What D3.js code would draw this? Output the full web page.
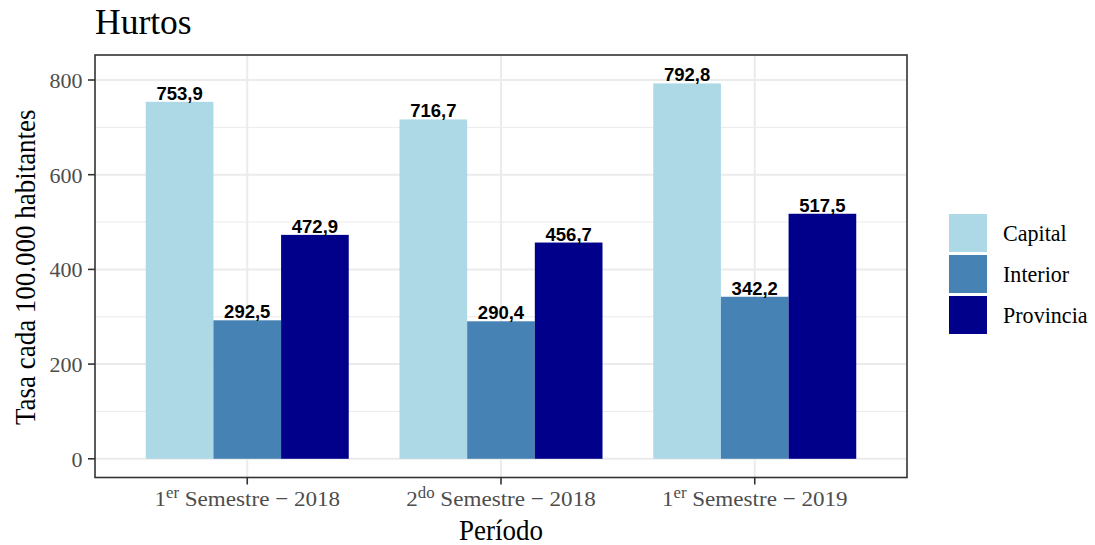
<!DOCTYPE html>
<html><head><meta charset="utf-8">
<script src="https://cdn.jsdelivr.net/npm/d3@7"></script>
<style>body{margin:0;background:#fff}svg{display:block}</style>
</head><body>
<script>
const periods = ["1er Semestre − 2018", "2do Semestre − 2018", "1er Semestre − 2019"];
const periodBase = ["1", "2", "1"];
const periodSup = ["er", "do", "er"];
const periodRest = [" Semestre − 2018", " Semestre − 2018", " Semestre − 2019"];
const regions = ["Capital", "Interior", "Provincia"];
const capital = [753.9, 716.7, 792.8];
const interior = [292.5, 290.4, 342.2];
const provincia = [472.9, 456.7, 517.5];
const colors = ["#ADD8E6", "#4682B4", "#00008B"];
const yTicks = [0, 200, 400, 600, 800];
const yMinor = [100, 300, 500, 700];

const W = 1095, H = 545;
const panel = {l: 95, r: 907, t: 55, b: 477.5};
const serif = "'Liberation Serif', serif";

const svg = d3.select("body").append("svg").attr("width", W).attr("height", H);

// ggplot-like discrete axis: expand 0.6 units each side, dodge width 0.8
const x = d3.scalePoint().domain(periods).range([panel.l, panel.r]).padding(0.6);
const unit = x.step();
const xg = d3.scaleBand().domain(regions).range([-unit * 0.4, unit * 0.4]);
const y = d3.scaleLinear().domain([-39.5, 852.8]).range([panel.b, panel.t]);

const series = [capital, interior, provincia];

// grid
const g = svg.append("g");
g.selectAll(".minor").data(yMinor).enter().append("line")
  .attr("x1", panel.l).attr("x2", panel.r).attr("y1", d => y(d)).attr("y2", d => y(d))
  .attr("stroke", "#ebebeb").attr("stroke-width", 1);
g.selectAll(".major").data(yTicks).enter().append("line")
  .attr("x1", panel.l).attr("x2", panel.r).attr("y1", d => y(d)).attr("y2", d => y(d))
  .attr("stroke", "#ebebeb").attr("stroke-width", 2);
g.selectAll(".vmajor").data(periods).enter().append("line")
  .attr("x1", d => x(d)).attr("x2", d => x(d)).attr("y1", panel.t).attr("y2", panel.b)
  .attr("stroke", "#ebebeb").attr("stroke-width", 2);

// bars
regions.forEach((r, k) => {
  svg.append("g").selectAll("rect").data(series[k]).enter().append("rect")
    .attr("x", (d, i) => x(periods[i]) + xg(r)).attr("width", xg.bandwidth())
    .attr("y", d => y(d)).attr("height", d => y(0) - y(d))
    .attr("fill", colors[k]);
});
// labels
regions.forEach((r, k) => {
  svg.append("g").selectAll("text").data(series[k]).enter().append("text")
    .attr("x", (d, i) => x(periods[i]) + xg(r) + xg.bandwidth() / 2)
    .attr("y", d => y(d) - 2)
    .attr("text-anchor", "middle")
    .attr("font-family", "'Liberation Sans', Arial, sans-serif").attr("font-weight", "bold")
    .attr("font-size", 18.5).attr("fill", "#000")
    .text(d => d3.format(".1f")(d).replace(".", ","));
});

// panel border
svg.append("rect").attr("x", panel.l).attr("y", panel.t).attr("width", panel.r - panel.l).attr("height", panel.b - panel.t)
  .attr("fill", "none").attr("stroke", "#333333").attr("stroke-width", 1.6);

// y axis
const ya = svg.append("g");
yTicks.forEach(t => {
  ya.append("line").attr("x1", panel.l - 7).attr("x2", panel.l).attr("y1", y(t)).attr("y2", y(t))
    .attr("stroke", "#333333").attr("stroke-width", 1.6);
  ya.append("text").attr("x", panel.l - 12.5).attr("y", y(t)).attr("dy", "0.36em")
    .attr("text-anchor", "end").attr("font-family", serif).attr("font-size", 22).attr("fill", "#4d4d4d")
    .text(t);
});
// x axis
const xa = svg.append("g");
periods.forEach((p, i) => {
  xa.append("line").attr("x1", x(p)).attr("x2", x(p)).attr("y1", panel.b).attr("y2", panel.b + 7)
    .attr("stroke", "#333333").attr("stroke-width", 1.6);
  const t = xa.append("text").attr("transform", `translate(${x(p)},${panel.b + 28}) scale(1.05,1)`)
    .attr("text-anchor", "middle").attr("font-family", serif).attr("font-size", 22).attr("fill", "#4d4d4d");
  t.append("tspan").text(periodBase[i]);
  t.append("tspan").attr("font-size", 16).attr("dy", -8).text(periodSup[i]);
  t.append("tspan").attr("dy", 8).text(periodRest[i]);
});

// titles
svg.append("text").attr("x", 95).attr("y", 33.5).attr("font-family", serif).attr("font-size", 35.5).attr("fill", "#000").text("Hurtos");
svg.append("text").attr("transform", `translate(${x(periods[1])},539.5) scale(0.93,1)`).attr("text-anchor", "middle").attr("font-family", serif)
  .attr("font-size", 29).attr("fill", "#000").text("Período");
svg.append("text").attr("transform", `translate(35,${(panel.t + panel.b) / 2 + 1}) rotate(-90) scale(0.93,1)`).attr("text-anchor", "middle")
  .attr("font-family", serif).attr("font-size", 29).attr("fill", "#000").text("Tasa cada 100.000 habitantes");

// legend
const lg = svg.append("g");
regions.forEach((r, k) => {
  const top = 214 + k * 41;
  lg.append("rect").attr("x", 949).attr("y", top).attr("width", 38).attr("height", 38).attr("fill", colors[k]);
  lg.append("text").attr("transform", `translate(1003,${top + 27}) scale(0.92,1)`).attr("font-family", serif)
    .attr("font-size", 24).attr("fill", "#000").text(r);
});
</script>
</body></html>
